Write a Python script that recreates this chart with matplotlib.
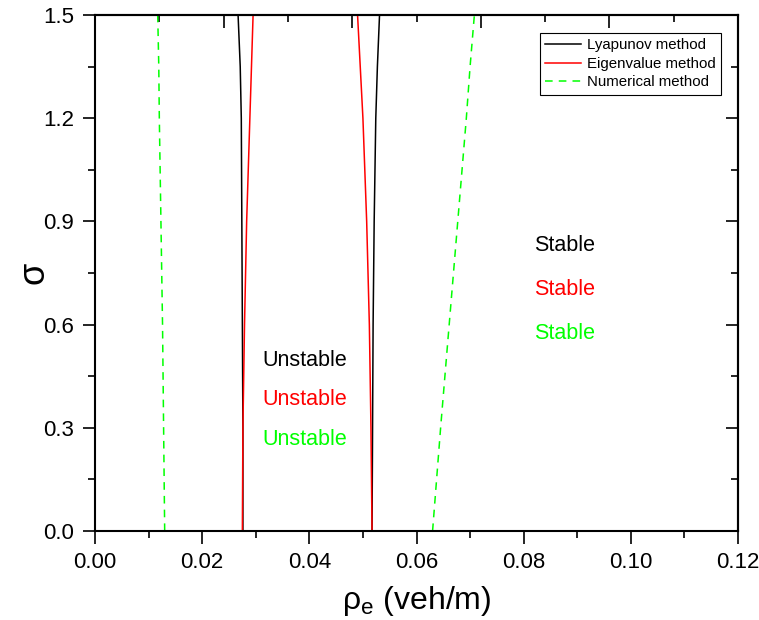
import matplotlib
matplotlib.use("Agg")
import matplotlib.pyplot as plt
import numpy as np
from matplotlib.ticker import MultipleLocator, NullFormatter

plt.rcParams['font.family'] = ['Liberation Sans', 'DejaVu Sans']

# sigma values shared by the boundary curves
sigma = [0.0, 0.3, 0.6, 0.9, 1.2, 1.35, 1.5]

# critical densities (veh/m)
lyap_left = [0.0276, 0.0276, 0.0275, 0.0274, 0.0273, 0.0271, 0.0267]
lyap_right = [0.0517, 0.0518, 0.0519, 0.0521, 0.0524, 0.0527, 0.0531]
eig_left = [0.0275, 0.0276, 0.0279, 0.0283, 0.0289, 0.0292, 0.0295]
eig_right = [0.0517, 0.0515, 0.0512, 0.0507, 0.0500, 0.0495, 0.0490]
num_left = [0.0130, 0.0128, 0.0126, 0.0123, 0.0120, 0.0119, 0.0117]
num_right = [0.0630, 0.0645, 0.0661, 0.0677, 0.0693, 0.0700, 0.0708]

fig = plt.figure(figsize=(7.59, 6.20), dpi=100)
ax = fig.add_axes([0.1252, 0.1435, 0.8471, 0.8323])

ax.plot(lyap_left, sigma, color='black', lw=1.1, label='Lyapunov method')
ax.plot(lyap_right, sigma, color='black', lw=1.1)
ax.plot(eig_left, sigma, color='#ff0000', lw=1.1, label='Eigenvalue method')
ax.plot(eig_right, sigma, color='#ff0000', lw=1.1)
ax.plot(num_left, sigma, color='#00ff00', lw=1.1, ls=(0, (5, 4)), label='Numerical method')
ax.plot(num_right, sigma, color='#00ff00', lw=1.1, ls=(0, (5, 4)))

ax.set_xlim(0, 0.12)
ax.set_ylim(0, 1.5)

ax.xaxis.set_major_locator(MultipleLocator(0.02))
ax.xaxis.set_minor_locator(MultipleLocator(0.01))
ax.yaxis.set_major_locator(MultipleLocator(0.3))
ax.yaxis.set_minor_locator(MultipleLocator(0.15))
ax.xaxis.set_major_formatter(matplotlib.ticker.FormatStrFormatter('%.2f'))
ax.yaxis.set_major_formatter(matplotlib.ticker.FormatStrFormatter('%.1f'))
ax.tick_params(which='major', direction='out', length=9, width=1.2, labelsize=16, pad=6)
ax.tick_params(which='minor', direction='out', length=5, width=1.2)
for s in ax.spines.values():
    s.set_linewidth(1.5)

# top and right axes with inward ticks, no labels
top = ax.secondary_xaxis('top')
top.xaxis.set_major_locator(MultipleLocator(0.024))
top.xaxis.set_minor_locator(MultipleLocator(0.012))
top.xaxis.set_major_formatter(NullFormatter())
top.tick_params(which='major', direction='in', length=9, width=1.2)
top.tick_params(which='minor', direction='in', length=5, width=1.2)
top.spines['top'].set_linewidth(1.5)

right = ax.secondary_yaxis('right')
right.yaxis.set_major_locator(MultipleLocator(0.3))
right.yaxis.set_minor_locator(MultipleLocator(0.15))
right.yaxis.set_major_formatter(NullFormatter())
right.tick_params(which='major', direction='in', length=9, width=1.2)
right.tick_params(which='minor', direction='in', length=5, width=1.2)
right.spines['right'].set_linewidth(1.5)

ax.set_xlabel('ρ$_\\mathregular{e}$ (veh/m)', fontsize=23, labelpad=8)
ax.set_ylabel('σ', fontsize=26, labelpad=-6)

fs = 15.5
ax.text(0.0876, 0.831, 'Stable', color='black', fontsize=fs, ha='center', va='center')
ax.text(0.0876, 0.703, 'Stable', color='#ff0000', fontsize=fs, ha='center', va='center')
ax.text(0.0876, 0.575, 'Stable', color='#00ff00', fontsize=fs, ha='center', va='center')
ax.text(0.0391, 0.497, 'Unstable', color='black', fontsize=fs, ha='center', va='center')
ax.text(0.0391, 0.381, 'Unstable', color='#ff0000', fontsize=fs, ha='center', va='center')
ax.text(0.0391, 0.265, 'Unstable', color='#00ff00', fontsize=fs, ha='center', va='center')

leg = ax.legend(loc='upper right', bbox_to_anchor=(0.9736, 0.965), borderaxespad=0,
                fontsize=10.8, frameon=True, fancybox=False, edgecolor='black',
                framealpha=1, handlelength=2.4, borderpad=0.35, labelspacing=0.3,
                handletextpad=0.4)
leg.get_frame().set_linewidth(0.8)

fig.savefig('out.png', dpi=100)
